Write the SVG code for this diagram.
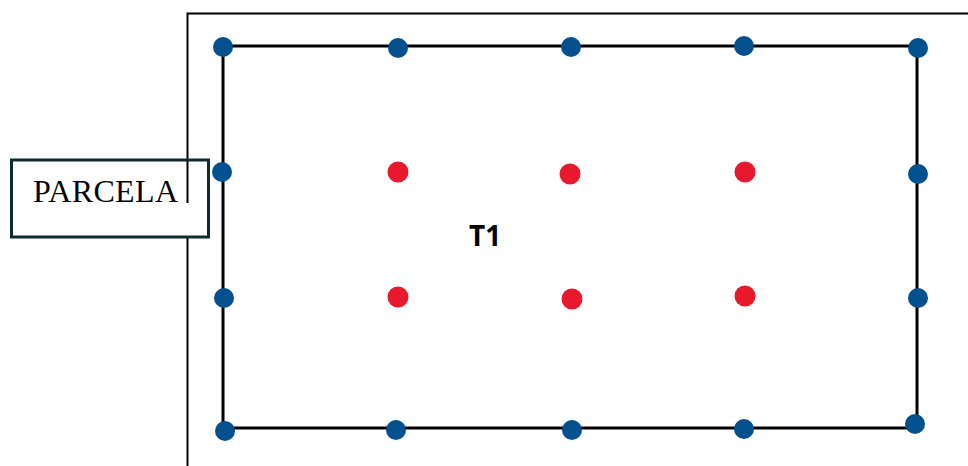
<svg xmlns="http://www.w3.org/2000/svg" width="968" height="466" viewBox="0 0 968 466">
<style>
.frame{fill:none;stroke:#000;stroke-width:2}
.plot{fill:none;stroke:#000;stroke-width:3;stroke-linejoin:miter}
.b{fill:#03508f}
.r{fill:#e8192c}
.lbl{fill:#fff;stroke:#0f2a33;stroke-width:3}
.t{font-family:"Liberation Serif",serif;font-size:32px;fill:#000}
.t1{font-family:"Open Sans","Liberation Sans",sans-serif;font-weight:bold;font-size:28px;fill:#000}
</style>
<rect width="968" height="466" fill="#fff"/>
<g id="connectors">
<path class="frame" d="M187.5,466 V13.5 H968"/>
<path class="plot" d="M223,46 H917 V428 H223 Z"/>
</g>
<g id="parcela">
<rect class="lbl" x="11.5" y="160" width="197" height="77"/>
<line x1="187.5" y1="161" x2="187.5" y2="203" stroke="#000" stroke-width="2"/>
<text class="t" x="33" y="202" textLength="145">PARCELA</text>
</g>
<g id="T1"><text class="t1" x="469" y="246">T1</text></g>
<g id="boundary-points">
<circle class="b" cx="223" cy="47" r="10"/>
<circle class="b" cx="398" cy="48" r="10"/>
<circle class="b" cx="571" cy="47" r="10"/>
<circle class="b" cx="744" cy="46" r="10"/>
<circle class="b" cx="918" cy="48" r="10"/>
<circle class="b" cx="222" cy="172" r="10"/>
<circle class="b" cx="918" cy="174" r="10"/>
<circle class="b" cx="224" cy="298" r="10"/>
<circle class="b" cx="918" cy="298" r="10"/>
<circle class="b" cx="225" cy="431" r="10"/>
<circle class="b" cx="396" cy="430" r="10"/>
<circle class="b" cx="572" cy="430" r="10"/>
<circle class="b" cx="744" cy="429" r="10"/>
<circle class="b" cx="915" cy="424" r="10"/>
</g>
<g id="inner-points">
<circle class="r" cx="398" cy="172" r="10.5"/>
<circle class="r" cx="570" cy="174" r="10.5"/>
<circle class="r" cx="745" cy="172" r="10.5"/>
<circle class="r" cx="398" cy="297" r="10.5"/>
<circle class="r" cx="572" cy="299" r="10.5"/>
<circle class="r" cx="745" cy="296" r="10.5"/>
</g>
</svg>
